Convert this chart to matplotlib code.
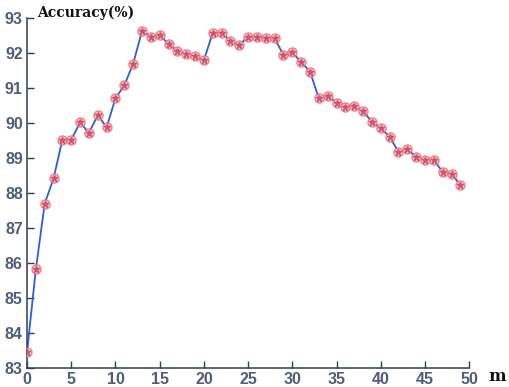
import matplotlib
matplotlib.use("Agg")
import matplotlib.pyplot as plt

# Accuracy (%) versus m
m_values = list(range(50))
accuracy = [83.45, 85.83, 87.70, 88.42, 89.53, 89.53, 90.02, 89.72, 90.23, 89.88,
            90.71, 91.08, 91.70, 92.63, 92.47, 92.52, 92.26, 92.07, 91.97, 91.91,
            91.80, 92.58, 92.58, 92.35, 92.24, 92.47, 92.47, 92.42, 92.42, 91.95,
            92.02, 91.75, 91.47, 90.71, 90.77, 90.59, 90.47, 90.50, 90.34, 90.04,
            89.85, 89.61, 89.18, 89.25, 89.04, 88.94, 88.94, 88.61, 88.56, 88.23]
x_ticks = [0, 5, 10, 15, 20, 25, 30, 35, 40, 45, 50]
y_ticks = [83, 84, 85, 86, 87, 88, 89, 90, 91, 92, 93]

fig = plt.figure(figsize=(5.10, 3.87), dpi=100)
ax = fig.add_axes([0.053, 0.049, 0.867, 0.904])

ax.plot(m_values, accuracy, color="#2a5fd6", lw=1.3, zorder=2)
ax.plot(m_values, accuracy, ls="none", marker="o", ms=6.5, mfc="#f8d0c0",
        mec="#e56a80", mew=1.0, alpha=0.85, zorder=3)
ax.plot(m_values, accuracy, ls="none", marker="*", ms=4.5, color="#d85070",
        zorder=4)

ax.set_xlim(0, 50)
ax.set_ylim(83, 93)
ax.set_xticks(x_ticks)
ax.set_yticks(y_ticks)

spine_col = "#2c3e50"
for side in ("top", "right"):
    ax.spines[side].set_visible(False)
for side in ("left", "bottom"):
    ax.spines[side].set_color(spine_col)
    ax.spines[side].set_linewidth(1.1)

ax.tick_params(direction="in", length=5, width=1.0, color=spine_col,
               labelcolor="#4d5d7a", labelsize=11.5, pad=3)
for lab in ax.get_xticklabels() + ax.get_yticklabels():
    lab.set_fontweight("bold")
    lab.set_family("Liberation Sans")

fig.text(0.072, 0.968, "Accuracy(%)", family="DejaVu Serif", fontweight="bold",
         fontsize=10, color="#111111", ha="left", va="center")
fig.text(0.975, 0.028, "m", family="DejaVu Serif", fontweight="bold",
         fontsize=12, color="#111111", ha="center", va="center")

fig.savefig("out.png", dpi=100)
